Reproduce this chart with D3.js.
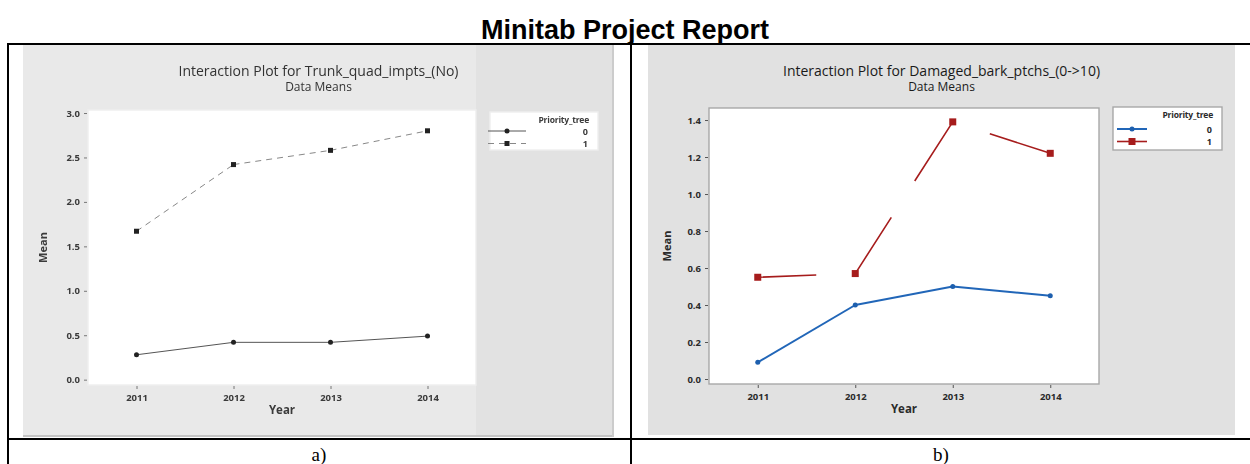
<!DOCTYPE html>
<html>
<head>
<meta charset="utf-8">
<script src="https://cdn.jsdelivr.net/npm/d3@7"></script>
<style>
  html, body { margin: 0; padding: 0; background: #fff; }
  svg { display: block; }
</style>
</head>
<body>
<div id="chart"></div>
<script>
// ---------------- DATA ----------------
const years = ["2011", "2012", "2013", "2014"];
const seriesLabels = ["0", "1"];
const trunkTree0 = [0.28, 0.42, 0.42, 0.49];
const trunkTree1 = [1.67, 2.42, 2.58, 2.80];
const barkTree0 = [0.09, 0.40, 0.50, 0.45];
const barkTree1 = [0.55, 0.57, 1.39, 1.22];
const trunkTicks = [0.0, 0.5, 1.0, 1.5, 2.0, 2.5, 3.0];
const barkTicks = [0.0, 0.2, 0.4, 0.6, 0.8, 1.0, 1.2, 1.4];

const reportTitle = "Minitab Project Report";
const trunkTitle = "Interaction Plot for Trunk_quad_impts_(No)";
const barkTitle = "Interaction Plot for Damaged_bark_ptchs_(0->10)";
const subTitle = "Data Means";
const xTitle = "Year";
const yTitle = "Mean";
const legendTitle = "Priority_tree";
const captions = ["a)", "b)"];

// ---------------- LAYOUT ----------------
const W = 1250, H = 464;
const svg = d3.select("#chart").append("svg")
  .attr("width", W).attr("height", H);

svg.append("rect").attr("width", W).attr("height", H).attr("fill", "#fff");

const defs = svg.append("defs");
defs.append("filter").attr("id", "soft")
  .attr("x", "-5%").attr("y", "-5%").attr("width", "110%").attr("height", "110%")
  .append("feGaussianBlur").attr("stdDeviation", 0.45);

svg.append("text")
  .attr("x", 625).attr("y", 39)
  .attr("text-anchor", "middle")
  .attr("font-family", "Liberation Sans, Arial, sans-serif")
  .attr("font-weight", "bold")
  .attr("font-size", 27)
  .attr("fill", "#000")
  .text(reportTitle);

const fmt = d3.format(".1f");
const uiFont = "'Open Sans', 'Noto Sans', sans-serif";

function drawPanel(cfg) {
  const g = svg.append("g");
  if (cfg.soft) g.attr("filter", "url(#soft)");

  // grey panel background
  g.append("rect")
    .attr("x", cfg.bg[0]).attr("y", cfg.bg[1])
    .attr("width", cfg.bg[2]).attr("height", cfg.bg[3])
    .attr("fill", cfg.bgColor);
  if (cfg.rightShade) {
    g.append("rect")
      .attr("x", cfg.rightShade[0]).attr("y", cfg.bg[1])
      .attr("width", cfg.rightShade[1]).attr("height", cfg.bg[3])
      .attr("fill", cfg.rightShadeColor);
  }
  if (cfg.bottomEdge) {
    g.append("rect")
      .attr("x", cfg.bg[0]).attr("y", cfg.bg[1] + cfg.bg[3] - 2)
      .attr("width", cfg.bg[2]).attr("height", 2)
      .attr("fill", "#c4c4c4");
    g.append("rect")
      .attr("x", cfg.bg[0] + cfg.bg[2] - 2).attr("y", cfg.bg[1])
      .attr("width", 2).attr("height", cfg.bg[3])
      .attr("fill", "#cccccc");
  }

  const cx = cfg.bg[0] + cfg.bg[2] / 2;
  // titles
  g.append("text")
    .attr("x", cx).attr("y", cfg.titleY)
    .attr("text-anchor", "middle")
    .attr("font-family", uiFont).attr("font-size", 14)
    .attr("fill", cfg.titleColor)
    .text(cfg.title);
  g.append("text")
    .attr("x", cx).attr("y", cfg.titleY + 15)
    .attr("text-anchor", "middle")
    .attr("font-family", uiFont).attr("font-size", 12)
    .attr("fill", cfg.titleColor)
    .text(subTitle);

  const p = cfg.plot; // [x, y, w, h]
  const x = d3.scalePoint().domain(years).range([p[0], p[0] + p[2]]).padding(0.5);
  const y = d3.scaleLinear().domain(cfg.yDomain).range([p[1] + p[3], p[1]]);

  g.append("rect")
    .attr("x", p[0]).attr("y", p[1]).attr("width", p[2]).attr("height", p[3])
    .attr("fill", "#fff")
    .attr("stroke", cfg.frameColor).attr("stroke-width", 1.4);

  // axes
  const yAxis = g.append("g")
    .attr("transform", `translate(${p[0] - 1},0)`)
    .call(d3.axisLeft(y).tickValues(cfg.yTicks).tickFormat(fmt).tickSize(3).tickPadding(4));
  const xAxis = g.append("g")
    .attr("transform", `translate(0,${p[1] + p[3] + 1})`)
    .call(d3.axisBottom(x).tickSize(3).tickPadding(5));
  [yAxis, xAxis].forEach(a => {
    a.select(".domain").remove();
    a.selectAll("line").attr("stroke", cfg.tickColor);
    a.selectAll("text")
      .attr("font-family", uiFont).attr("font-size", 9.5)
      .attr("font-weight", "bold")
      .attr("fill", cfg.textColor);
  });

  g.append("text")
    .attr("x", x(years[1]) / 2 + x(years[2]) / 2).attr("y", p[1] + p[3] + 29)
    .attr("text-anchor", "middle")
    .attr("font-family", uiFont).attr("font-size", 11.5).attr("font-weight", "bold")
    .attr("fill", cfg.textColor)
    .text(xTitle);
  g.append("text")
    .attr("transform", `translate(${cfg.yTitleX},${p[1] + p[3] / 2}) rotate(-90)`)
    .attr("text-anchor", "middle")
    .attr("font-family", uiFont).attr("font-size", 11).attr("font-weight", "bold")
    .attr("fill", cfg.textColor)
    .text(yTitle);

  // series
  cfg.series.forEach((s, si) => {
    const pts = years.map((yr, i) => [x(yr), y(s.values[i])]);
    for (let i = 0; i < pts.length - 1; i++) {
      const [x0, y0] = pts[i], [x1, y1] = pts[i + 1];
      const len = Math.hypot(x1 - x0, y1 - y0);
      let dash = s.dash || null;
      if (s.visible) {
        // visible intervals as fractions of the segment
        const iv = s.visible[i];
        const arr = [];
        let pos = 0;
        iv.forEach(([a, b]) => {
          arr.push(0);
          arr.push((a - pos) * len);
          arr.push((b - a) * len);
          arr.push(0);
          pos = b;
        });
        arr.push(0); arr.push((1 - pos) * len + 1);
        dash = arr.join(",");
      }
      g.append("line")
        .attr("x1", x0).attr("y1", y0).attr("x2", x1).attr("y2", y1)
        .attr("stroke", s.color).attr("stroke-width", s.width)
        .attr("stroke-dasharray", dash)
        .attr("stroke-linecap", "butt");
    }
    pts.forEach(([px, py]) => {
      if (s.marker === "square") {
        g.append("rect")
          .attr("x", px - s.size / 2).attr("y", py - s.size / 2)
          .attr("width", s.size).attr("height", s.size)
          .attr("fill", s.markerColor);
      } else {
        g.append("circle")
          .attr("cx", px).attr("cy", py).attr("r", s.size / 2)
          .attr("fill", s.markerColor);
      }
    });
  });

  // legend
  const L = cfg.legend; // [x, y, w, h]
  g.append("rect")
    .attr("x", L[0]).attr("y", L[1]).attr("width", L[2]).attr("height", L[3])
    .attr("fill", "#fff").attr("stroke", cfg.frameColor).attr("stroke-width", 1.4);
  g.append("text")
    .attr("x", L[0] + L[2] - 9).attr("y", L[1] + 11)
    .attr("text-anchor", "end")
    .attr("font-family", uiFont).attr("font-size", 8.5).attr("font-weight", "bold")
    .attr("letter-spacing", -0.2)
    .attr("fill", cfg.textColor)
    .text(legendTitle);
  cfg.series.forEach((s, si) => {
    const ly = L[1] + cfg.legendRow0 + si * 12.5;
    g.append("line")
      .attr("x1", L[0] + cfg.legendLine[0]).attr("x2", L[0] + cfg.legendLine[1])
      .attr("y1", ly).attr("y2", ly)
      .attr("stroke", s.color).attr("stroke-width", s.width)
      .attr("stroke-dasharray", s.dash || null);
    const mx = L[0] + (cfg.legendLine[0] + cfg.legendLine[1]) / 2;
    if (s.marker === "square") {
      g.append("rect").attr("x", mx - s.size / 2).attr("y", ly - s.size / 2)
        .attr("width", s.size).attr("height", s.size).attr("fill", s.markerColor);
    } else {
      g.append("circle").attr("cx", mx).attr("cy", ly).attr("r", s.size / 2)
        .attr("fill", s.markerColor);
    }
    g.append("text")
      .attr("x", L[0] + L[2] - 10).attr("y", ly + 3.5)
      .attr("text-anchor", "end")
      .attr("font-family", uiFont).attr("font-size", 9).attr("font-weight", "bold")
      .attr("fill", cfg.textColor)
      .text(seriesLabels[si]);
  });
}

// Panel a
drawPanel({
  soft: true,
  bg: [23, 45, 591, 392],
  bgColor: "#e9e9e9",
  rightShade: [476, 137],
  rightShadeColor: "#e2e2e2",
  bottomEdge: true,
  textColor: "#3a3a3a",
  titleColor: "#333",
  tickColor: "#777",
  frameColor: "#eeeeee",
  title: trunkTitle,
  titleY: 76,
  plot: [88, 110, 388, 275],
  yDomain: [-0.06, 3.034],
  yTicks: trunkTicks,
  yTitleX: 47,
  legend: [490, 112, 108, 38],
  legendLine: [-2, 36],
  legendRow0: 19,
  series: [
    { values: trunkTree0, color: "#555", width: 1, marker: "circle", size: 5, markerColor: "#222" },
    { values: trunkTree1, color: "#888", width: 1, dash: "6,5", marker: "square", size: 5, markerColor: "#222" }
  ]
});

// Panel b
drawPanel({
  soft: false,
  bg: [648, 45, 587, 390],
  bgColor: "#e1e1e1",
  textColor: "#2a2a2a",
  titleColor: "#1a1a1a",
  tickColor: "#555",
  frameColor: "#a8a8a8",
  title: barkTitle,
  titleY: 76,
  plot: [709, 108, 390, 276],
  yDomain: [-0.027, 1.465],
  yTicks: barkTicks,
  yTitleX: 671,
  legend: [1113, 107, 109, 43],
  legendLine: [4, 34],
  legendRow0: 22,
  series: [
    { values: barkTree0, color: "#2166b8", width: 2, marker: "circle", size: 5, markerColor: "#1d5fae" },
    { values: barkTree1, color: "#a61c1c", width: 1.6, marker: "square", size: 7, markerColor: "#a61c1c",
      visible: [[[0, 0.6]], [[0, 0.37], [0.61, 1]], [[0.38, 1]]] }
  ]
});

// ---------------- TABLE LINES ----------------
const lineG = svg.append("g").attr("fill", "#000");
lineG.append("rect").attr("x", 7).attr("y", 43).attr("width", W - 7).attr("height", 2);
lineG.append("rect").attr("x", 7).attr("y", 43).attr("width", 2).attr("height", H - 43);
lineG.append("rect").attr("x", 630).attr("y", 43).attr("width", 2).attr("height", H - 43);
lineG.append("rect").attr("x", 7).attr("y", 438).attr("width", W - 7).attr("height", 2);

// captions
[319, 941].forEach((cx, i) => {
  svg.append("text")
    .attr("x", cx).attr("y", 461)
    .attr("text-anchor", "middle")
    .attr("font-family", "'Liberation Serif', 'Times New Roman', serif")
    .attr("font-size", 19)
    .attr("fill", "#000")
    .text(captions[i]);
});
</script>
</body>
</html>
